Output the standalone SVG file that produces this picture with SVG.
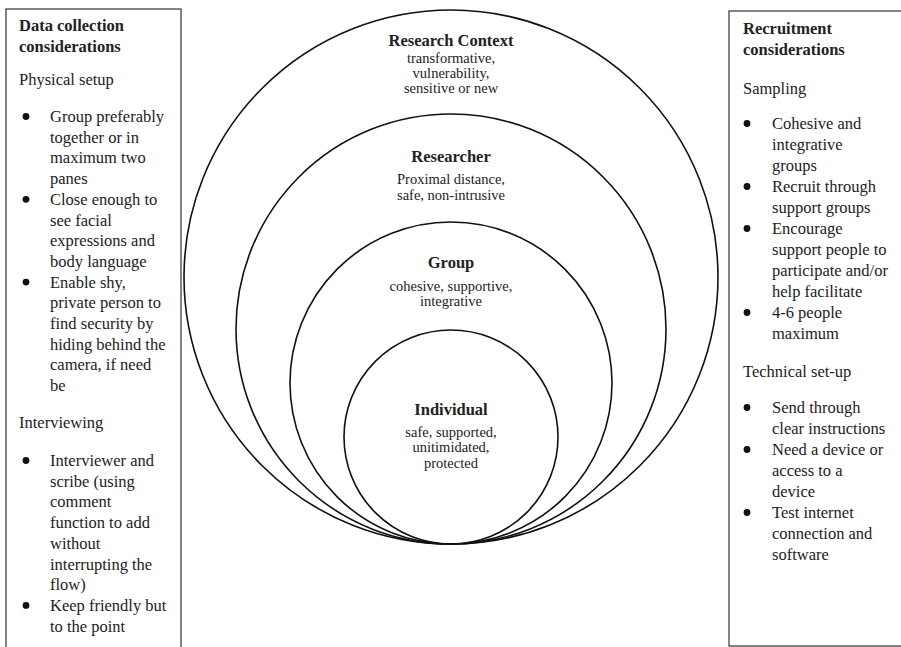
<svg xmlns="http://www.w3.org/2000/svg" width="901" height="647" viewBox="0 0 901 647">
<style>
  .bg{fill:#ffffff}
  .box{fill:none;stroke:#333;stroke-width:1.2}
  .ring{fill:none;stroke:#111;stroke-width:1.6}
  .t{font-family:"Liberation Serif","Times New Roman",serif;fill:#222}
  .col{font-size:16.5px}
  .b{font-weight:bold}
  .h{font-size:16.5px;font-weight:bold;text-anchor:middle}
  .s{font-size:14.5px;text-anchor:middle}
  .dot{fill:#111}
</style>
<rect class="bg" x="0" y="0" width="901" height="647"/>

<g id="connectors"></g>

<g id="research-context">
  <circle class="ring" cx="451" cy="277" r="267"/>
  <text class="t h" x="451" y="45.5">Research Context</text>
  <text class="t s" x="451" y="62.5">transformative,</text>
  <text class="t s" x="451" y="77.5">vulnerability,</text>
  <text class="t s" x="451" y="92.5">sensitive or new</text>
</g>

<g id="researcher">
  <circle class="ring" cx="451" cy="329" r="215"/>
  <text class="t h" x="451" y="162">Researcher</text>
  <text class="t s" x="451" y="184">Proximal distance,</text>
  <text class="t s" x="451" y="200">safe, non-intrusive</text>
</g>

<g id="group">
  <circle class="ring" cx="451" cy="383" r="161"/>
  <text class="t h" x="451" y="268">Group</text>
  <text class="t s" x="451" y="291">cohesive, supportive,</text>
  <text class="t s" x="451" y="306">integrative</text>
</g>

<g id="individual">
  <circle class="ring" cx="451" cy="437" r="107"/>
  <text class="t h" x="451" y="415">Individual</text>
  <text class="t s" x="451" y="437">safe, supported,</text>
  <text class="t s" x="451" y="452">unitimidated,</text>
  <text class="t s" x="451" y="468">protected</text>
</g>

<g id="data-collection">
  <rect class="box" x="6" y="9" width="175" height="700"/>
  <text class="t col b" x="19" y="31">Data collection</text>
  <text class="t col b" x="19" y="52">considerations</text>
  <text class="t col" x="19" y="85">Physical setup</text>
  <circle class="dot" cx="26" cy="116.5" r="3.4"/>
  <text class="t col">
    <tspan x="50" y="122">Group preferably</tspan>
    <tspan x="50" y="142.7">together or in</tspan>
    <tspan x="50" y="163.4">maximum two</tspan>
    <tspan x="50" y="184.1">panes</tspan>
  </text>
  <circle class="dot" cx="26" cy="199.3" r="3.4"/>
  <text class="t col">
    <tspan x="50" y="204.8">Close enough to</tspan>
    <tspan x="50" y="225.5">see facial</tspan>
    <tspan x="50" y="246.2">expressions and</tspan>
    <tspan x="50" y="266.9">body language</tspan>
  </text>
  <circle class="dot" cx="26" cy="282.1" r="3.4"/>
  <text class="t col">
    <tspan x="50" y="287.6">Enable shy,</tspan>
    <tspan x="50" y="308.3">private person to</tspan>
    <tspan x="50" y="329">find security by</tspan>
    <tspan x="50" y="349.7">hiding behind the</tspan>
    <tspan x="50" y="370.4">camera, if need</tspan>
    <tspan x="50" y="391.1">be</tspan>
  </text>
  <text class="t col" x="19" y="428">Interviewing</text>
  <circle class="dot" cx="26" cy="460.5" r="3.4"/>
  <text class="t col">
    <tspan x="50" y="466">Interviewer and</tspan>
    <tspan x="50" y="486.7">scribe (using</tspan>
    <tspan x="50" y="507.4">comment</tspan>
    <tspan x="50" y="528.1">function to add</tspan>
    <tspan x="50" y="548.8">without</tspan>
    <tspan x="50" y="569.5">interrupting the</tspan>
    <tspan x="50" y="590.2">flow)</tspan>
  </text>
  <circle class="dot" cx="26" cy="605.4" r="3.4"/>
  <text class="t col">
    <tspan x="50" y="610.9">Keep friendly but</tspan>
    <tspan x="50" y="631.6">to the point</tspan>
  </text>
</g>

<g id="recruitment">
  <rect class="box" x="729" y="11" width="200" height="635"/>
  <text class="t col b" x="743" y="34">Recruitment</text>
  <text class="t col b" x="743" y="55">considerations</text>
  <text class="t col" x="743" y="94">Sampling</text>
  <circle class="dot" cx="747" cy="123.5" r="3.4"/>
  <text class="t col">
    <tspan x="772" y="129">Cohesive and</tspan>
    <tspan x="772" y="150">integrative</tspan>
    <tspan x="772" y="171">groups</tspan>
  </text>
  <circle class="dot" cx="747" cy="186.5" r="3.4"/>
  <text class="t col">
    <tspan x="772" y="192">Recruit through</tspan>
    <tspan x="772" y="213">support groups</tspan>
  </text>
  <circle class="dot" cx="747" cy="228.5" r="3.4"/>
  <text class="t col">
    <tspan x="772" y="234">Encourage</tspan>
    <tspan x="772" y="255">support people to</tspan>
    <tspan x="772" y="276">participate and/or</tspan>
    <tspan x="772" y="297">help facilitate</tspan>
  </text>
  <circle class="dot" cx="747" cy="312.5" r="3.4"/>
  <text class="t col">
    <tspan x="772" y="318">4-6 people</tspan>
    <tspan x="772" y="339">maximum</tspan>
  </text>
  <text class="t col" x="743" y="377">Technical set-up</text>
  <circle class="dot" cx="747" cy="407.5" r="3.4"/>
  <text class="t col">
    <tspan x="772" y="413">Send through</tspan>
    <tspan x="772" y="434">clear instructions</tspan>
  </text>
  <circle class="dot" cx="747" cy="449.5" r="3.4"/>
  <text class="t col">
    <tspan x="772" y="455">Need a device or</tspan>
    <tspan x="772" y="476">access to a</tspan>
    <tspan x="772" y="497">device</tspan>
  </text>
  <circle class="dot" cx="747" cy="512.5" r="3.4"/>
  <text class="t col">
    <tspan x="772" y="518">Test internet</tspan>
    <tspan x="772" y="539">connection and</tspan>
    <tspan x="772" y="560">software</tspan>
  </text>
</g>
</svg>
